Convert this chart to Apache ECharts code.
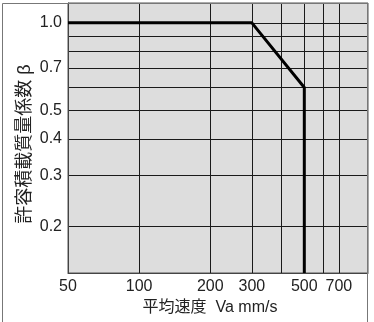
<!DOCTYPE html>
<html>
<head>
<meta charset="utf-8">
<script src="https://cdn.jsdelivr.net/npm/echarts@6/dist/echarts.min.js"></script>
<style>html,body{margin:0;padding:0;background:#fff}#c{width:374px;height:322px}</style>
</head>
<body>
<div id="c"></div>
<script>
var xLabels = [50, 100, 200, 300, 500, 700];
var xGrid = [100, 200, 300, 400, 500, 600, 700];
var yLabels = [0.2, 0.3, 0.4, 0.5, 0.7, 1.0];
var yGrid = [0.2, 0.3, 0.4, 0.5, 0.6, 0.7, 0.8, 0.9, 1.0];
var speed = [50, 300, 500, 500];
var beta = [1.0, 1.0, 0.6, 0.1386];
var xRange = [50, 930];
var yRange = [0.1386, 1.17];

var FONT = '"Liberation Sans", "Noto Sans CJK JP", sans-serif';
var chart = echarts.init(document.getElementById('c'), null, {renderer: 'canvas'});
chart.setOption({
  animation: false,
  backgroundColor: '#fff',
  textStyle: {fontFamily: FONT},
  graphic: [{
    type: 'rect', z: 100, silent: true,
    shape: {x: 2.5, y: 3.5, width: 365, height: 340},
    style: {fill: 'none', stroke: '#777', lineWidth: 1}
  }],
  grid: {
    left: 68, right: 6, top: 3, bottom: 49,
    show: true, backgroundColor: '#dddddd', borderColor: '#555', borderWidth: 1,
    containLabel: false
  },
  xAxis: {
    type: 'log', logBase: 10, min: xRange[0], max: xRange[1],
    name: '平均速度  Va mm/s', nameLocation: 'middle', nameGap: 27, nameMoveOverlap: false,
    nameTextStyle: {fontSize: 16, color: '#222', fontFamily: FONT, padding: [0, 16, 0, 0]},
    axisLine: {show: true, lineStyle: {color: '#444', width: 1}},
    axisTick: {show: false, customValues: xGrid},
    axisLabel: {customValues: xLabels, fontSize: 16, color: '#222', margin: 6, fontFamily: FONT,
      formatter: function (v) { return String(Math.round(v)); }},
    splitLine: {show: true, lineStyle: {color: '#1a1a1a', width: 1}},
    minorTick: {show: false}, minorSplitLine: {show: false}
  },
  yAxis: {
    type: 'log', logBase: 10, min: yRange[0], max: yRange[1],
    name: '許容積載質量係数 β', nameLocation: 'middle', nameGap: 34, nameRotate: 90, nameMoveOverlap: false,
    nameTextStyle: {fontSize: 18, color: '#222', fontFamily: FONT, padding: [0, 12, 0, 0]},
    axisLine: {show: true, lineStyle: {color: '#444', width: 1}},
    axisTick: {show: false, customValues: yGrid},
    axisLabel: {customValues: yLabels, fontSize: 16, color: '#222', margin: 6, fontFamily: FONT,
      formatter: function (v) { return Number(v).toFixed(1); }},
    splitLine: {show: true, lineStyle: {color: '#1a1a1a', width: 1}},
    minorTick: {show: false}, minorSplitLine: {show: false}
  },
  series: [{
    type: 'line',
    data: speed.map(function (s, i) { return [s, beta[i]]; }),
    showSymbol: false, symbol: 'none',
    lineStyle: {color: '#000', width: 3},
    clip: true, z: 10
  }]
});
</script>
</body>
</html>
